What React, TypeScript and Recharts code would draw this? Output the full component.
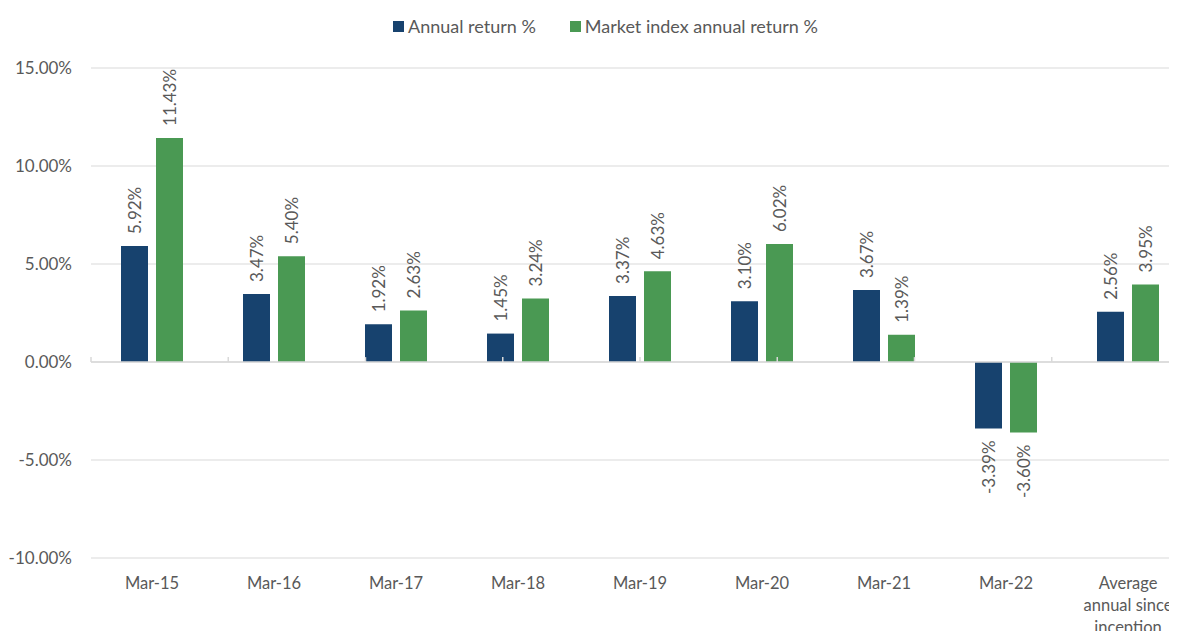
import React from 'react';
import { BarChart, Bar, XAxis, YAxis, CartesianGrid, Legend, LabelList, ReferenceLine } from 'recharts';

const categories = ['Mar-15', 'Mar-16', 'Mar-17', 'Mar-18', 'Mar-19', 'Mar-20', 'Mar-21', 'Mar-22', 'Average\nannual since\ninception'];
const annualReturn = [5.92, 3.47, 1.92, 1.45, 3.37, 3.10, 3.67, -3.39, 2.56];
const marketReturn = [11.43, 5.40, 2.63, 3.24, 4.63, 6.02, 1.39, -3.60, 3.95];
const yTicks = [-10, -5, 0, 5, 10, 15];
const boundaryTicks = [0, 1, 2, 3, 4, 5, 6, 7, 8, 9];

const SERIES = [
  { key: 'annual', name: 'Annual return %', color: '#17426E' },
  { key: 'market', name: 'Market index annual return %', color: '#4A9953' },
];

const data = categories.map((c, i) => ({ cat: c, annual: annualReturn[i], market: marketReturn[i] }));

const FONT = 'Lato, "Open Sans", sans-serif';
const TEXT = '#595959';
const GRID = '#D9D9D9';

const fmt = (v: number) => `${v.toFixed(2)}%`;

const BarLabel = (props: any) => {
  const { x, y, width, height, value } = props;
  const cx = x + width / 2;
  const top = Math.min(y, y + height);
  const bottom = Math.max(y, y + height);
  if (value >= 0) {
    const ay = top - 12;
    return (
      <text x={cx} y={ay} transform={`rotate(-90 ${cx} ${ay})`} textAnchor="start" dominantBaseline="central"
        fill={TEXT} fontSize={17} fontFamily={FONT}>{fmt(value)}</text>
    );
  }
  const ay = bottom + 12;
  return (
    <text x={cx} y={ay} transform={`rotate(-90 ${cx} ${ay})`} textAnchor="end" dominantBaseline="central"
      fill={TEXT} fontSize={17} fontFamily={FONT}>{fmt(value)}</text>
  );
};

const XTick = (props: any) => {
  const { x, y, payload } = props;
  const lines = String(payload.value).split('\n');
  return (
    <text x={x} y={y} textAnchor="middle" fill={TEXT} fontSize={16.5} fontFamily={FONT}>
      {lines.map((l, i) => (
        <tspan key={i} x={x} dy={i === 0 ? 29 : 22}>{l}</tspan>
      ))}
    </text>
  );
};

const LegendContent = () => (
  <div style={{ display: 'flex', alignItems: 'center', fontFamily: FONT, fontSize: 18, color: TEXT, whiteSpace: 'nowrap' }}>
    {SERIES.map((s, i) => (
      <div key={s.key} style={{ display: 'flex', alignItems: 'center', marginRight: i === 0 ? 34 : 0 }}>
        <span style={{ display: 'inline-block', width: 11, height: 11, background: s.color, marginRight: 4 }} />
        <span>{s.name}</span>
      </div>
    ))}
  </div>
);

export default function App() {
  return (
    <div style={{ margin: -8, width: 1177, height: 639, overflow: 'hidden', position: 'relative', background: '#fff' }}>
      <BarChart width={1200} height={639} data={data} margin={{ top: 68, right: 11, bottom: 0, left: 0 }}
        barSize={27} barGap={8}>
        <CartesianGrid horizontal vertical={false} stroke={GRID} strokeWidth={1} />
        <XAxis dataKey="cat" axisLine={false} tickLine={false} tickSize={0} height={81} interval={0} tick={<XTick />} />
        <XAxis xAxisId="b" type="number" domain={[0, 9]} hide />
        <YAxis domain={[-10, 15]} ticks={yTicks} width={91} axisLine={false} tickLine={false} tickSize={0} tickMargin={19}
          tickFormatter={fmt} tick={{ fill: TEXT, fontSize: 17, fontFamily: FONT }} />
        <Legend verticalAlign="middle" content={<LegendContent />}
          wrapperStyle={{ position: 'absolute', top: 15, left: 393, width: 'auto' }} />
        {SERIES.map((s) => (
          <Bar key={s.key} dataKey={s.key} name={s.name} fill={s.color} isAnimationActive={false}>
            <LabelList dataKey={s.key} content={<BarLabel />} />
          </Bar>
        ))}
        <ReferenceLine y={0} stroke={GRID} strokeWidth={1.5} />
        {boundaryTicks.map((t) => (
          <ReferenceLine key={t} xAxisId="b" segment={[{ x: t, y: 0 }, { x: t, y: 0.25 }]} stroke={GRID} strokeWidth={1.5} />
        ))}
      </BarChart>
    </div>
  );
}
